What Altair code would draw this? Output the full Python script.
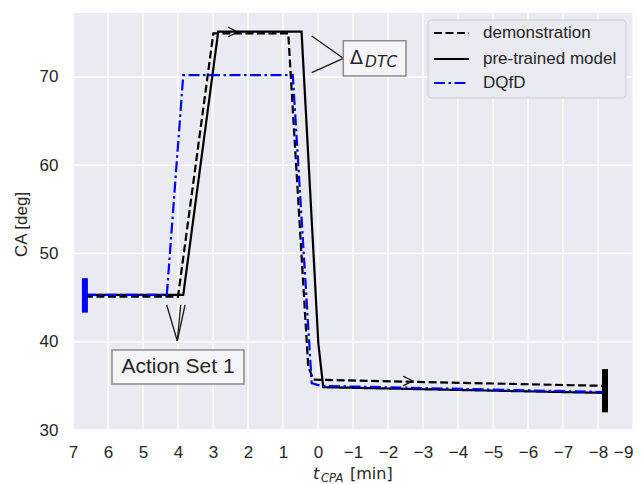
import altair as alt
import pandas as pd

# ---------------- data ----------------
series_names = ["demonstration", "pre-trained model", "DQfD"]

demo_x = [6.66, 4.0, 2.99, 0.85, 0.28, 0.13, -8.2]
demo_y = [45.1, 45.1, 74.95, 74.95, 37.2, 35.7, 35.0]

pre_x = [6.66, 3.85, 2.85, 0.47, -0.01, -0.15, -8.2]
pre_y = [45.3, 45.3, 75.15, 75.15, 39.8, 34.85, 34.2]

dqfd_x = [6.66, 4.32, 3.85, 0.72, 0.18, -0.1, -8.2]
dqfd_y = [45.3, 45.3, 70.2, 70.2, 35.3, 35.0, 34.3]

marker_x = [6.66, -8.2]
marker_low = [43.3, 32.0]
marker_high = [47.2, 36.9]
marker_series = ["DQfD", "pre-trained model"]

arrow_x = [2.43, -2.57]
arrow_y = [75.1, 35.55]

x_ticks = list(range(7, -10, -1))
y_ticks = [30, 40, 50, 60, 70]

# ---------------- tables ----------------
rows = []
for name, xs, ys in [(series_names[0], demo_x, demo_y),
                     (series_names[1], pre_x, pre_y),
                     (series_names[2], dqfd_x, dqfd_y)]:
    for i, (xv, yv) in enumerate(zip(xs, ys)):
        rows.append({"series": name, "x": xv, "y": yv, "i": i})
df = pd.DataFrame(rows)

markers = pd.DataFrame({"x": marker_x, "y": marker_low, "y2": marker_high,
                        "series": marker_series})
arrows = pd.DataFrame({"x": arrow_x, "y": arrow_y})
xgrid = pd.DataFrame({"x": x_ticks})
ygrid = pd.DataFrame({"y": y_ticks})

FONT = "Liberation Sans"
TXT = "#262626"
BG = "#EAEAF2"
colors = ["#000000", "#000000", "#0000FF"]
dashes = [[8, 3.5], [1, 0], [11, 3.5, 2.5, 3.5]]

cscale = alt.Scale(domain=series_names, range=colors)
dscale = alt.Scale(domain=series_names, range=dashes)

X = alt.X("x:Q", scale=alt.Scale(domain=[7, -9], nice=False, zero=False),
          axis=alt.Axis(values=x_ticks, title=None, format="d", grid=False,
                        labelOverlap=False, labelFlush=False,
                        labelAlign={"condition": {"test": "datum.value == -9",
                                                  "value": "right"},
                                    "value": "center"}))
Y = alt.Y("y:Q", scale=alt.Scale(domain=[30, 77.25], nice=False, zero=False),
          axis=alt.Axis(values=y_ticks, title="CA [deg]", titleX=-52, titleY=211,
                        titleAngle=270, titleAlign="center", titleBaseline="middle",
                        grid=False, labelOverlap=False, labelFlush=False))

ONE = pd.DataFrame({"a": [0]})

background = alt.Chart(ONE).mark_rect(color=BG).encode(
    x=alt.value(0), x2=alt.value(560), y=alt.value(0), y2=alt.value(417))

grid_x = alt.Chart(xgrid).mark_rule(color="#FFFFFF", strokeWidth=1.3).encode(x=X)
grid_y = alt.Chart(ygrid).mark_rule(color="#FFFFFF", strokeWidth=1.3).encode(y=Y)


def line_layer(name):
    return alt.Chart(df).transform_filter(alt.datum.series == name).mark_line(
        strokeWidth=2.2, clip=True
    ).encode(
        x=X, y=Y, order="i:Q",
        color=alt.Color("series:N", scale=cscale, legend=None),
        strokeDash=alt.StrokeDash("series:N", scale=dscale, legend=None),
    )


lines = [line_layer(n) for n in series_names]

marker_layer = alt.Chart(markers).mark_rule(strokeWidth=6, strokeCap="butt").encode(
    x=X, y=Y, y2="y2:Q",
    color=alt.Color("series:N", scale=cscale, legend=None),
)

arrow_layer = alt.Chart(arrows).mark_point(
    shape="M -1 -1 L 1 0 L -1 1", filled=False, size=90, stroke="black",
    strokeWidth=1.3, opacity=1
).encode(x=X, y=Y)


# ---------------- annotations (pixel positions) ----------------
def seg(x1, y1, x2, y2):
    return alt.Chart(ONE).mark_rule(color="#1a1a1a", strokeWidth=1.3).encode(
        x=alt.value(x1), y=alt.value(y1), x2=alt.value(x2), y2=alt.value(y2))


def box(x1, y1, x2, y2):
    return alt.Chart(ONE).mark_rect(fill="#F5F5F9", stroke="#8c8c8c", strokeWidth=1.5).encode(
        x=alt.value(x1), y=alt.value(y1), x2=alt.value(x2), y2=alt.value(y2))


def txt(text, x, y, size, font=FONT, italic=False, align="left", baseline="alphabetic"):
    return alt.Chart(ONE).mark_text(
        text=text, fontSize=size, font=font,
        fontStyle="italic" if italic else "normal",
        align=align, baseline=baseline, color=TXT
    ).encode(x=alt.value(x), y=alt.value(y))


annotations = [
    seg(238.7, 23.0, 270.3, 45.3),
    seg(238.7, 59.7, 270.3, 45.3),
    seg(93.7, 292.0, 104.3, 328.0),
    seg(107.7, 292.0, 104.3, 328.0),
    seg(112.0, 292.0, 104.3, 328.0),
    box(270.3, 27.7, 333.0, 63.0),
    box(39.0, 337.0, 171.0, 371.0),
    txt("Δ", 277, 51, 19, font="DejaVu Sans"),
    txt("DTC", 292, 53.7, 15.5, font="DejaVu Sans", italic=True),
    txt("Action Set 1", 105, 360, 21, align="center"),
    txt("t", 240, 466, 16, font="DejaVu Sans", italic=True),
    txt("CPA", 248, 469, 11.5, font="DejaVu Sans", italic=True),
    txt("[min]", 277, 466, 16, font="DejaVu Sans"),
]

# ---------------- legend ----------------
legend = [alt.Chart(ONE).mark_rect(
    fill=BG, stroke="#CCCCCC", strokeWidth=1, cornerRadius=4
).encode(x=alt.value(355), x2=alt.value(553), y=alt.value(7), y2=alt.value(85))]
for k, (name, col, dash) in enumerate(zip(series_names, colors, dashes)):
    ly = [20, 46, 70][k]
    legend.append(alt.Chart(ONE).mark_rule(
        stroke=col, strokeDash=dash, strokeWidth=2.2).encode(
        x=alt.value(361), x2=alt.value(396), y=alt.value(ly)))
    legend.append(alt.Chart(ONE).mark_text(
        text=name, align="left", baseline="middle",
        fontSize=17, font=FONT, color=TXT).encode(x=alt.value(410), y=alt.value(ly)))

chart = alt.layer(
    background, grid_x, grid_y, *lines, marker_layer, arrow_layer, *annotations, *legend
).properties(
    width=560, height=417,
    padding={"left": 65, "top": 5, "right": 2, "bottom": 54},
    autosize=alt.AutoSizeParams(type="none"),
).configure_view(
    stroke=None
).configure_axis(
    domain=False, ticks=False, tickSize=0,
    labelFont=FONT, labelFontSize=17, labelColor=TXT,
    titleFont=FONT, titleFontSize=17, titleColor=TXT, titleFontWeight="normal",
).configure_axisX(labelPadding=14).configure_axisY(labelPadding=15)

chart.save("out.html", embed_options={"renderer": "svg", "actions": False})
